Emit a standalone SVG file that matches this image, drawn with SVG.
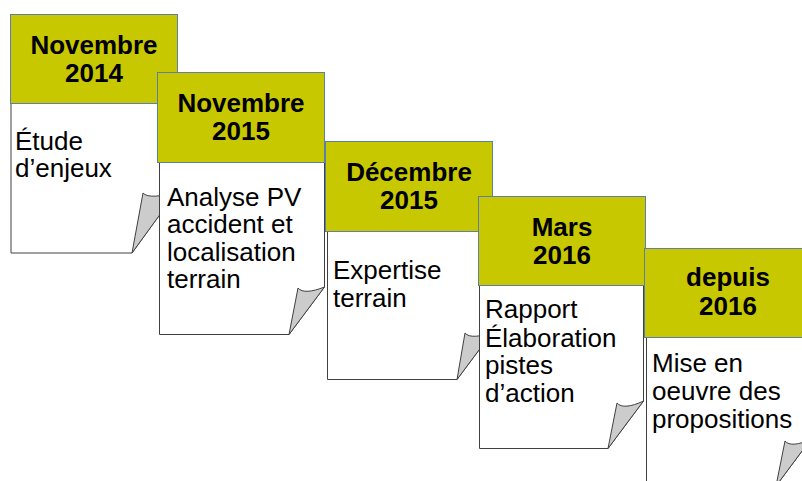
<svg xmlns="http://www.w3.org/2000/svg" width="802" height="481" viewBox="0 0 802 481">
<style>
.hdr{fill:#c8c800;stroke:#5b7fa8;stroke-width:1}
.body{fill:#ffffff;stroke:#404040;stroke-width:1}
.fold{fill:#cccccc;stroke:#404040;stroke-width:1;stroke-linejoin:round}
.ht{font-family:"Liberation Sans",Arial,sans-serif;font-weight:bold;font-size:26px;fill:#000;text-anchor:middle}
.bt{font-family:"Liberation Sans",Arial,sans-serif;font-size:26px;fill:#000}
</style>
<rect width="802" height="481" fill="#ffffff"/>
<g id="card1">
<path class="body" d="M11 103 L177 103 L177 191 L132 253 L11 253 Z"/>
<path class="fold" d="M132 253 L143 193 C147 198 162 197 177 191 Z"/>
<rect class="hdr" x="10.5" y="14.5" width="167" height="89"/>
<text class="ht" x="94" y="54">Novembre</text>
<text class="ht" x="94" y="82">2014</text>
<text class="bt" x="15" y="150">Étude</text>
<text class="bt" x="15" y="177">d’enjeux</text>
</g>
<g id="card2">
<path class="body" d="M159.5 162 L324.5 162 L324.5 287 L289 334.5 L159.5 334.5 Z"/>
<path class="fold" d="M289 334.5 L298 288 C302 293 312 292 324.5 287 Z"/>
<rect class="hdr" x="157.5" y="72.5" width="167" height="90"/>
<text class="ht" x="241" y="112">Novembre</text>
<text class="ht" x="241" y="140">2015</text>
<text class="bt" x="167" y="206">Analyse PV</text>
<text class="bt" x="167" y="233">accident et</text>
<text class="bt" x="167" y="261">localisation</text>
<text class="bt" x="167" y="288">terrain</text>
</g>
<g id="card3">
<path class="body" d="M327.5 231 L492.5 231 L492.5 332 L457 379.5 L327.5 379.5 Z"/>
<path class="fold" d="M457 379.5 L465 333 C469 338 480 337 492.5 332 Z"/>
<rect class="hdr" x="325.5" y="141.5" width="167" height="90"/>
<text class="ht" x="409" y="181">Décembre</text>
<text class="ht" x="409" y="209">2015</text>
<text class="bt" x="333" y="279">Expertise</text>
<text class="bt" x="333" y="307">terrain</text>
</g>
<g id="card4">
<path class="body" d="M479.5 285 L643.5 285 L643.5 401 L608 448.5 L479.5 448.5 Z"/>
<path class="fold" d="M608 448.5 L617 403 C621 408 631 407 643.5 401 Z"/>
<rect class="hdr" x="478.5" y="196.5" width="167" height="89"/>
<text class="ht" x="562" y="236">Mars</text>
<text class="ht" x="562" y="264">2016</text>
<text class="bt" x="485" y="318">Rapport</text>
<text class="bt" x="485" y="347">Élaboration</text>
<text class="bt" x="485" y="374">pistes</text>
<text class="bt" x="485" y="402">d’action</text>
</g>
<g id="card5">
<path class="body" d="M646.5 337 L811 337 L811 439 L776 486 L646.5 486 Z"/>
<path class="fold" d="M776 486 L785 441 C789 446 799 445 811 439 Z"/>
<rect class="hdr" x="644.5" y="248.5" width="167" height="89"/>
<text class="ht" x="728" y="286">depuis</text>
<text class="ht" x="728" y="315">2016</text>
<text class="bt" x="652" y="372">Mise en</text>
<text class="bt" x="652" y="400">oeuvre des</text>
<text class="bt" x="652" y="428">propositions</text>
</g>
<g id="connectors"/>
</svg>
